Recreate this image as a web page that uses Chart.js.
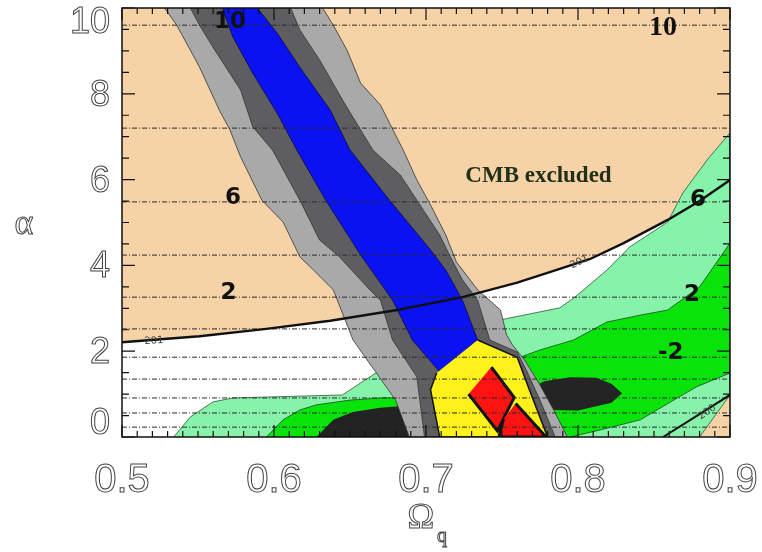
<!DOCTYPE html>
<html>
<head>
<meta charset="utf-8">
<script src="https://cdn.jsdelivr.net/npm/chart.js@4.4.0/dist/chart.umd.min.js"></script>
<style>
  html, body { margin: 0; padding: 0; background: #fff; }
  #wrap { width: 762px; height: 552px; }
</style>
</head>
<body>
<div id="wrap"><canvas id="chart" width="762" height="552"></canvas></div>
<script>
// region outlines, as [omega_q, alpha]
const curve201 = [[0.5,2.21],[0.551,2.35],[0.595,2.52],[0.637,2.71],[0.681,2.96],[0.724,3.26],[0.760,3.60],[0.788,3.92],[0.808,4.15],[0.830,4.52],[0.859,5.06],[0.880,5.50],[0.9,5.99]];
const curve200 = [[0.856,0],[0.9,0.98]];
const whiteBelowCurve = curve201.concat([[0.9,0.98],[0.880,0],[0.5,0]]);
const lightGreen = [[0.534,0],[0.545,0.47],[0.560,0.82],[0.573,0.91],[0.645,0.98],[0.657,1.26],[0.670,1.56],[0.676,1.75],[0.749,2.73],[0.788,3.01],[0.798,3.26],[0.819,3.89],[0.834,4.43],[0.859,5.01],[0.869,5.69],[0.885,6.46],[0.9,7.09],[0.9,0.98],[0.880,0]];
const green = [[0.595,0],[0.606,0.40],[0.617,0.63],[0.628,0.75],[0.650,0.86],[0.670,0.91],[0.696,0.93],[0.762,1.86],[0.775,2.03],[0.797,2.26],[0.819,2.68],[0.841,2.84],[0.859,2.96],[0.880,3.50],[0.9,4.52],[0.9,1.49],[0.878,1.17],[0.863,0.86],[0.841,0.40],[0.814,0.16],[0.795,0]];
const blackLeft = [[0.628,0],[0.639,0.40],[0.652,0.58],[0.670,0.68],[0.696,0.75],[0.720,0.72],[0.740,0.5],[0.745,0]];
const blackRight = [[0.760,1.0],[0.778,1.30],[0.795,1.39],[0.812,1.38],[0.822,1.24],[0.829,1.02],[0.822,0.80],[0.800,0.62],[0.783,0.63],[0.765,0.80]];
const lightGrayBand = [[0.528,10],[0.536,9.60],[0.551,8.62],[0.564,7.62],[0.571,7.16],[0.578,6.53],[0.592,5.52],[0.606,5.01],[0.617,4.20],[0.626,3.89],[0.639,3.43],[0.645,2.89],[0.652,2.26],[0.666,1.56],[0.680,0.86],[0.689,0],[0.793,0],[0.784,0.63],[0.775,1.21],[0.765,1.79],[0.757,2.14],[0.753,2.38],[0.749,2.96],[0.734,3.43],[0.720,4.08],[0.713,4.71],[0.703,5.41],[0.694,5.99],[0.685,6.69],[0.680,7.04],[0.670,7.74],[0.657,8.25],[0.648,9.02],[0.639,9.60],[0.632,10]];
const darkGrayBand = [[0.545,10],[0.551,9.60],[0.561,9.02],[0.578,8.09],[0.586,7.23],[0.599,6.69],[0.617,5.52],[0.630,4.59],[0.643,4.20],[0.663,3.43],[0.670,3.19],[0.678,2.26],[0.694,1.40],[0.699,0],[0.785,0],[0.775,0.86],[0.766,1.56],[0.760,1.98],[0.742,2.26],[0.734,3.19],[0.724,3.66],[0.716,4.20],[0.709,4.71],[0.694,5.52],[0.683,6.11],[0.665,6.69],[0.645,7.86],[0.630,8.79],[0.617,9.49],[0.611,10]];
const blueBand = [[0.566,10],[0.573,9.32],[0.586,8.48],[0.602,7.55],[0.615,6.69],[0.634,5.52],[0.657,4.24],[0.678,3.19],[0.691,2.26],[0.709,1.52],[0.734,2.26],[0.724,3.19],[0.713,3.89],[0.703,4.36],[0.676,5.52],[0.650,6.69],[0.637,7.62],[0.617,8.62],[0.602,9.42],[0.589,10]];
const yellowRegion = [[0.734,2.26],[0.760,1.86],[0.768,1.10],[0.780,0],[0.709,0],[0.703,1.10],[0.707,1.49]];
const redUpper = [[0.743,1.63],[0.758,0.92],[0.747,0.14],[0.728,1.0]];
const redLower = [[0.759,0.78],[0.779,0],[0.748,0],[0.751,0.42]];

// dashed contour levels (alpha where each crosses) and their labels
const contourLevels = [9.60, 7.20, 5.48, 4.24, 3.26, 2.52, 1.86, 1.35, 0.91, 0.56, 0.23];
const contourLabels = ['10', '10', '6', '6', '2', '2', '-2'];
const contourLabelX = [0.571, 0.856, 0.573, 0.879, 0.570, 0.875, 0.861];
const contourLabelY = [9.67, 9.55, 5.57, 5.52, 3.36, 3.31, 1.96];

const xTicks = [0.5, 0.6, 0.7, 0.8, 0.9];
const xTickLabels = ['0.5', '0.6', '0.7', '0.8', '0.9'];
const yTicks = [0, 2, 4, 6, 8, 10];
const yTickLabels = ['0', '2', '4', '6', '8', '10'];

function area(points, color, border, width) {
    return {
        data: points.map(([x, y]) => ({x, y})),
        backgroundColor: color,
        borderColor: border || color,
        borderWidth: width || 0,
        fill: 'shape',
        pointRadius: 0,
        tension: 0,
    };
}

function curve(points, width, dash, color) {
    return {
        data: points.map(([x, y]) => ({x, y})),
        borderColor: color || '#111',
        borderWidth: width,
        borderDash: dash || [],
        fill: false,
        pointRadius: 0,
        tension: 0,
    };
}

// bottom to top
const layers = [
    area(whiteBelowCurve, '#ffffff'),
    area(lightGreen, '#86f2aa', '#2a5a3a', 0.8),
    area(green, '#08e40a', '#1a4a1a', 0.8),
    area(blackLeft, '#222222'),
    area(blackRight, '#242424'),
    area(lightGrayBand, '#a9a9aa', '#333', 0.8),
    area(darkGrayBand, '#5e5e60', '#333', 0.8),
    area(blueBand, '#0a12f2', '#0a0a40', 0.8),
    area(yellowRegion, '#fff21a', '#111', 1.5),
    area(redUpper, '#ff1212', '#111', 3),
    area(redLower, '#ff1212', '#111', 3),
];
contourLevels.forEach(a => layers.push(curve([[0.5, a], [0.9, a]], 1, [5, 2, 1, 2], '#2a2a2a')));
layers.push(curve(curve201, 2.4));
layers.push(curve(curve200, 2));

const decor = {
    id: 'decor',
    beforeDraw(chart) {
        const {ctx, chartArea: a} = chart;
        ctx.save();
        ctx.fillStyle = '#f6d3a6';
        ctx.fillRect(a.left, a.top, a.right - a.left, a.bottom - a.top);
        ctx.restore();
    },
    afterDatasetsDraw(chart) {
        const {ctx, chartArea: a, scales: {x, y}} = chart;
        ctx.save();

        // contour labels
        ctx.textAlign = 'center';
        ctx.textBaseline = 'middle';
        ctx.fillStyle = '#111';
        contourLabels.forEach((t, i) => {
            ctx.font = i === 1 ? 'bold 28px "Liberation Serif"' : 'bold 23px "DejaVu Sans"';
            ctx.fillText(t, x.getPixelForValue(contourLabelX[i]), y.getPixelForValue(contourLabelY[i]));
        });

        // small labels on the solid curves
        ctx.font = '10px "DejaVu Sans"';
        ctx.fillStyle = '#444';
        [[0.521, 2.24, -0.05, '201'], [0.801, 4.08, -0.45, '201'], [0.885, 0.58, -0.6, '200']].forEach(([vx, vy, r, t]) => {
            ctx.save();
            ctx.translate(x.getPixelForValue(vx), y.getPixelForValue(vy));
            ctx.rotate(r);
            ctx.fillText(t, 0, 0);
            ctx.restore();
        });

        ctx.font = 'bold 23px "Liberation Serif"';
        ctx.fillStyle = '#22301a';
        ctx.fillText('CMB excluded', x.getPixelForValue(0.774), y.getPixelForValue(6.08));

        // frame and inward ticks
        ctx.strokeStyle = '#111';
        ctx.lineWidth = 1.5;
        ctx.strokeRect(a.left, a.top, a.right - a.left, a.bottom - a.top);
        ctx.lineWidth = 1.2;
        ctx.beginPath();
        for (let i = 0; i <= 40; i++) {
            const px = x.getPixelForValue(0.5 + i * 0.01);
            const len = i % 10 === 0 ? 12 : 6;
            ctx.moveTo(px, a.bottom); ctx.lineTo(px, a.bottom - len);
            ctx.moveTo(px, a.top); ctx.lineTo(px, a.top + len);
        }
        for (let i = 0; i <= 20; i++) {
            const py = y.getPixelForValue(i * 0.5);
            const len = i % 4 === 0 ? 13 : 7;
            ctx.moveTo(a.left, py); ctx.lineTo(a.left + len, py);
            ctx.moveTo(a.right, py); ctx.lineTo(a.right - len, py);
        }
        ctx.stroke();

        // hollow tick labels
        ctx.strokeStyle = '#444';
        ctx.lineWidth = 1;
        ctx.font = '40px "Liberation Sans"';
        ctx.textAlign = 'center';
        xTicks.forEach((v, i) => ctx.strokeText(xTickLabels[i], x.getPixelForValue(v), 481));
        ctx.font = '36px "Liberation Sans"';
        ctx.textAlign = 'right';
        yTicks.forEach((v, i) => {
            const py = Math.min(Math.max(y.getPixelForValue(v) + 2, a.top + 15), a.bottom - 13);
            ctx.strokeText(yTickLabels[i], 110, py);
        });

        // axis titles
        ctx.textAlign = 'center';
        ctx.font = '36px "Liberation Serif"';
        ctx.strokeText('Ω', 421, 519);
        ctx.font = '20px "Liberation Serif"';
        ctx.strokeText('q', 442, 537);
        ctx.font = '36px "Liberation Serif"';
        ctx.strokeText('α', 24, 225);
        ctx.restore();
    },
};

new Chart(document.getElementById('chart').getContext('2d'), {
    type: 'line',
    data: {datasets: layers.slice().reverse()},
    options: {
        responsive: false,
        animation: false,
        events: [],
        layout: {padding: {left: 122, right: 32, top: 8, bottom: 115}},
        plugins: {legend: {display: false}, tooltip: {enabled: false}},
        scales: {
            x: {type: 'linear', min: 0.5, max: 0.9, display: false},
            y: {type: 'linear', min: 0, max: 10, display: false},
        },
    },
    plugins: [decor],
});
</script>
</body>
</html>
